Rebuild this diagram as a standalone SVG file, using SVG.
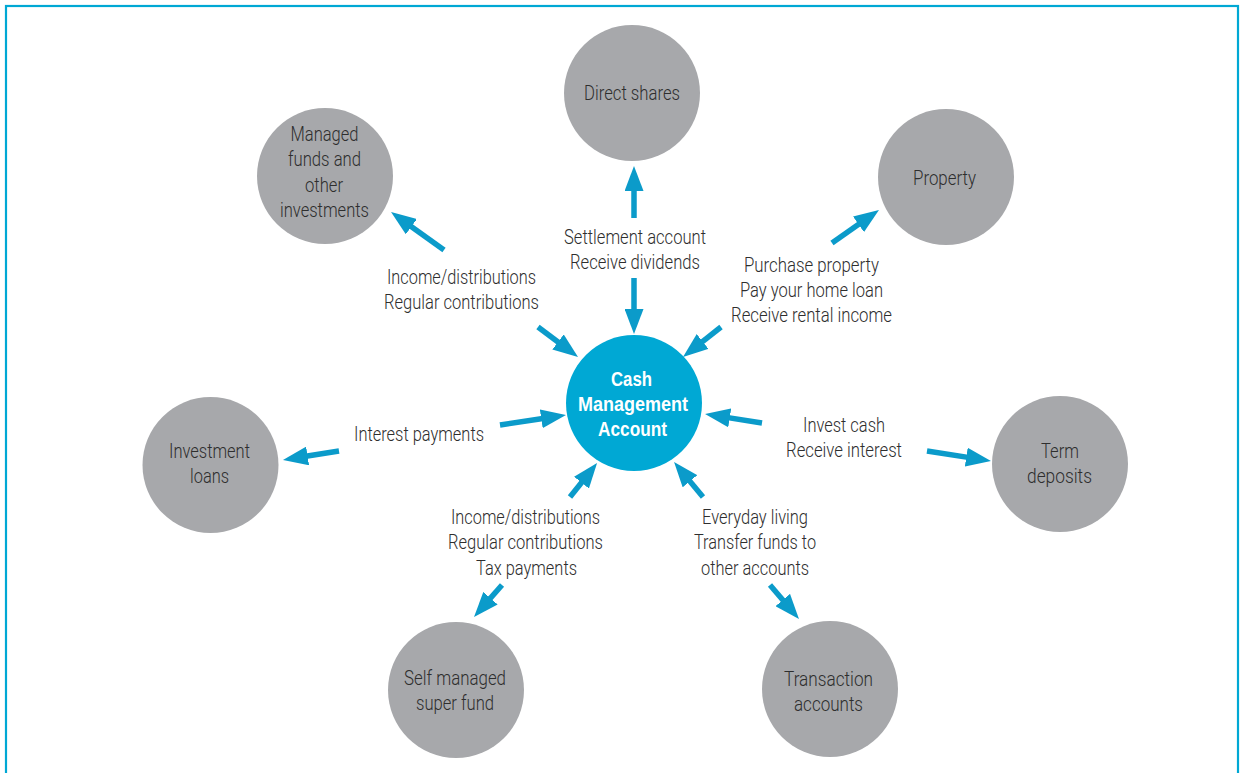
<svg xmlns="http://www.w3.org/2000/svg" width="1240" height="773" viewBox="0 0 1240 773">
<style>
.node{fill:#a7a8ab}
.cma{fill:#00a8d4}
.t{font-family:Roboto,"Liberation Sans",sans-serif;font-size:20.5px;font-weight:300;fill:#2e2e2e;text-anchor:middle}
.w{font-family:"Liberation Sans",Roboto,sans-serif;font-size:20.5px;font-weight:bold;fill:#fff;text-anchor:middle}
.a{stroke:#0b9bca;stroke-width:5.5;fill:none;marker-end:url(#h)}
</style>
<defs>
<marker id="h" markerUnits="userSpaceOnUse" markerWidth="25" markerHeight="19" refX="5" refY="9.5" orient="auto">
<path d="M0,0 L25,9.5 L0,19 z" fill="#0b9bca"/>
</marker>
</defs>
<rect x="0" y="0" width="1240" height="773" fill="#fff"/>
<rect x="6" y="6" width="1232" height="800" fill="none" stroke="#00a8d4" stroke-width="2.2"/>
<g id="connectors">
<line class="a" x1="634" y1="218" x2="634" y2="186"/>
<line class="a" x1="634" y1="278" x2="634" y2="314"/>
<line class="a" x1="444" y1="250" x2="407.3" y2="223.7"/>
<line class="a" x1="538" y1="327" x2="562" y2="345"/>
<line class="a" x1="832" y1="243" x2="862.6" y2="221.5"/>
<line class="a" x1="721" y1="327" x2="698.7" y2="344.6"/>
<line class="a" x1="500" y1="425" x2="546.2" y2="418"/>
<line class="a" x1="339" y1="451" x2="302.7" y2="456.8"/>
<line class="a" x1="762" y1="423" x2="724.8" y2="417.1"/>
<line class="a" x1="927" y1="451" x2="971.2" y2="457.9"/>
<line class="a" x1="570" y1="497" x2="584.6" y2="478.7"/>
<line class="a" x1="502" y1="585" x2="487.2" y2="601.9"/>
<line class="a" x1="703" y1="497" x2="686.8" y2="477.4"/>
<line class="a" x1="770" y1="585" x2="786" y2="603.8"/>
</g>
<g id="labels">
<text class="t" x="635" y="244" textLength="142" lengthAdjust="spacingAndGlyphs">Settlement account</text>
<text class="t" x="635" y="269" textLength="130" lengthAdjust="spacingAndGlyphs">Receive dividends</text>
<text class="t" x="461.5" y="284" textLength="149" lengthAdjust="spacingAndGlyphs">Income/distributions</text>
<text class="t" x="461.5" y="309" textLength="155" lengthAdjust="spacingAndGlyphs">Regular contributions</text>
<text class="t" x="811.5" y="272" textLength="135" lengthAdjust="spacingAndGlyphs">Purchase property</text>
<text class="t" x="811.5" y="297" textLength="143" lengthAdjust="spacingAndGlyphs">Pay your home loan</text>
<text class="t" x="811.5" y="322" textLength="161" lengthAdjust="spacingAndGlyphs">Receive rental income</text>
<text class="t" x="419" y="441" textLength="130" lengthAdjust="spacingAndGlyphs">Interest payments</text>
<text class="t" x="844" y="432" textLength="82" lengthAdjust="spacingAndGlyphs">Invest cash</text>
<text class="t" x="844" y="457" textLength="116" lengthAdjust="spacingAndGlyphs">Receive interest</text>
<text class="t" x="525.5" y="524" textLength="149" lengthAdjust="spacingAndGlyphs">Income/distributions</text>
<text class="t" x="525.5" y="549" textLength="155" lengthAdjust="spacingAndGlyphs">Regular contributions</text>
<text class="t" x="526.5" y="575" textLength="101" lengthAdjust="spacingAndGlyphs">Tax payments</text>
<text class="t" x="755" y="524" textLength="106" lengthAdjust="spacingAndGlyphs">Everyday living</text>
<text class="t" x="755" y="549" textLength="122" lengthAdjust="spacingAndGlyphs">Transfer funds to</text>
<text class="t" x="755" y="575" textLength="108" lengthAdjust="spacingAndGlyphs">other accounts</text>
</g>
<g id="cma">
<circle class="cma" cx="634" cy="403" r="68"/>
<text class="w" x="631.5" y="386" textLength="41" lengthAdjust="spacingAndGlyphs">Cash</text>
<text class="w" x="633" y="411" textLength="110" lengthAdjust="spacingAndGlyphs">Management</text>
<text class="w" x="632.5" y="436" textLength="69" lengthAdjust="spacingAndGlyphs">Account</text>
</g>
<g id="direct-shares">
<circle class="node" cx="632" cy="93" r="68"/>
<text class="t" x="632" y="100" textLength="96" lengthAdjust="spacingAndGlyphs">Direct shares</text>
</g>
<g id="managed-funds">
<circle class="node" cx="325" cy="176" r="68"/>
<text class="t" x="324.5" y="141" textLength="68" lengthAdjust="spacingAndGlyphs">Managed</text>
<text class="t" x="324.5" y="166" textLength="73" lengthAdjust="spacingAndGlyphs">funds and</text>
<text class="t" x="324" y="192" textLength="38" lengthAdjust="spacingAndGlyphs">other</text>
<text class="t" x="324.5" y="217" textLength="89" lengthAdjust="spacingAndGlyphs">investments</text>
</g>
<g id="property">
<circle class="node" cx="946" cy="177" r="68"/>
<text class="t" x="944.5" y="185" textLength="63" lengthAdjust="spacingAndGlyphs">Property</text>
</g>
<g id="investment-loans">
<circle class="node" cx="210.5" cy="465" r="68"/>
<text class="t" x="209.5" y="458" textLength="81" lengthAdjust="spacingAndGlyphs">Investment</text>
<text class="t" x="209.5" y="483" textLength="39" lengthAdjust="spacingAndGlyphs">loans</text>
</g>
<g id="term-deposits">
<circle class="node" cx="1060" cy="464" r="68"/>
<text class="t" x="1060" y="458" textLength="38" lengthAdjust="spacingAndGlyphs">Term</text>
<text class="t" x="1059.5" y="483" textLength="65" lengthAdjust="spacingAndGlyphs">deposits</text>
</g>
<g id="self-managed-super">
<circle class="node" cx="456" cy="690" r="68"/>
<text class="t" x="455" y="685" textLength="102" lengthAdjust="spacingAndGlyphs">Self managed</text>
<text class="t" x="455" y="710" textLength="78" lengthAdjust="spacingAndGlyphs">super fund</text>
</g>
<g id="transaction-accounts">
<circle class="node" cx="830" cy="689" r="68"/>
<text class="t" x="828.5" y="686" textLength="89" lengthAdjust="spacingAndGlyphs">Transaction</text>
<text class="t" x="828.5" y="711" textLength="69" lengthAdjust="spacingAndGlyphs">accounts</text>
</g>
</svg>
